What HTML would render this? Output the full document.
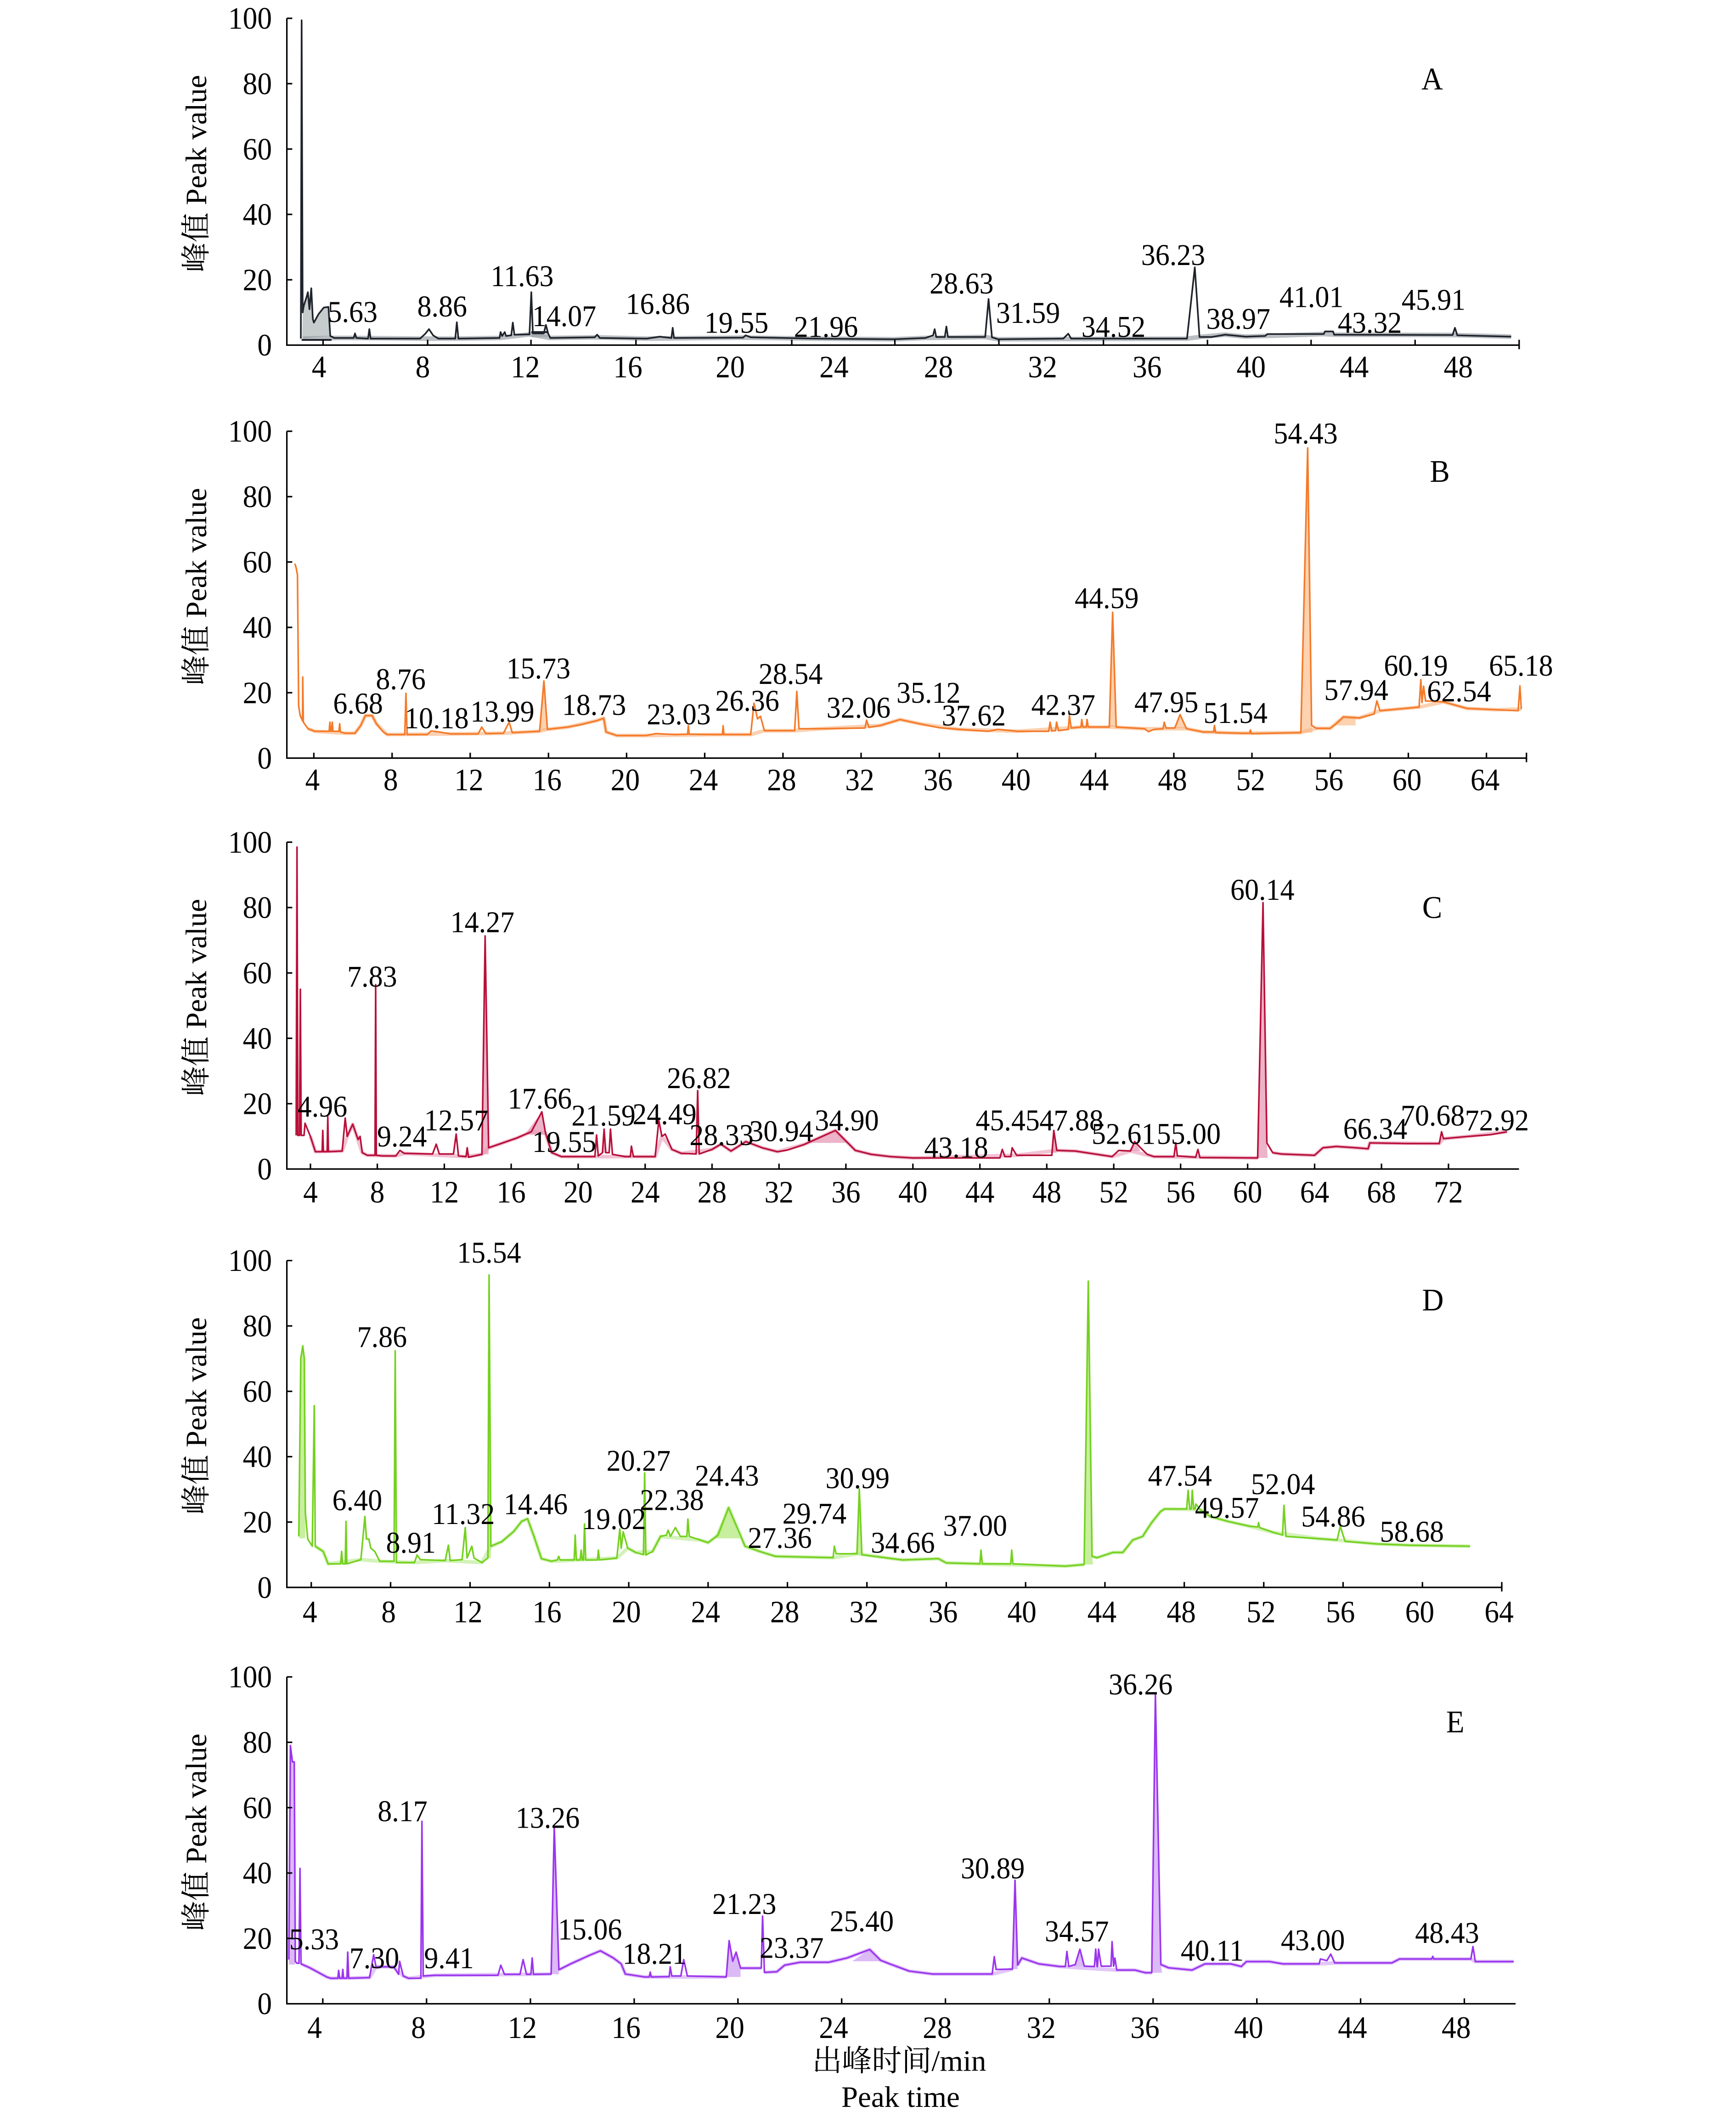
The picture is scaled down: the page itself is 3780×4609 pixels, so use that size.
<!DOCTYPE html>
<html><head><meta charset="utf-8">
<style>
html,body{margin:0;padding:0;background:#fff}
svg{display:block}
text{font-family:"Liberation Serif","Noto Serif CJK SC",serif;fill:#000}
.tx{font-size:21.5px;text-anchor:middle}
.ty{font-size:21.5px;text-anchor:end}
.an{font-size:21px;text-anchor:middle}
.pl{font-size:22px;text-anchor:middle}
.tt{font-size:22px;text-anchor:middle}
.tx,.ty,.an,.pl{transform-box:fill-box;transform-origin:center;transform:scaleY(1.06)}
.ax{fill:none;stroke:#000;stroke-width:1.1}
</style></head><body>
<svg xmlns="http://www.w3.org/2000/svg" width="3780" height="4609" viewBox="0 0 1280 1561" preserveAspectRatio="none">
<rect x="0" y="0" width="1280" height="1561" fill="#fff"/>

<!-- ================= PANEL A ================= -->
<g transform="translate(160,254.5) scale(19.2,-2.41)">
<path fill="#c6cccc" d="M3.27,2 L3.29,10 L3.33,12 L3.45,15 L3.49,16.2 L3.55,11 L3.62,17.4 L3.68,8 L3.72,6.9 L3.9,9.5 L4.1,11.5 L4.28,11.7 L4.35,2.8 Z M12.07,2.5 L12.07,4.2 L12.7,4.2 L12.7,2.5 Z"/>
<path fill="none" stroke="#8e959b" stroke-opacity="0.6" stroke-width="10" stroke-linejoin="round" vector-effect="non-scaling-stroke" d="M3.3,2 L4.5,2.2 L5.25,2.2 L7.8,2 L9.15,2 L10.85,2.2 L12,3.3 L12.8,2.2 L14.5,2.4 L16.5,2 L20.2,2.3 L23,2 L26,1.8 L27.2,2.2 L29.5,2.5 L30,1.8 L37.25,2 L37.73,2.5 L38.72,3.2 L39.5,2.6 L40.25,2.8 L42.5,3.4 L42.9,3.2 L47.45,3.1 L49.7,2.6"/>
<path fill="none" stroke="#1f232b" stroke-width="3.6" stroke-linejoin="round" vector-effect="non-scaling-stroke" d="M3.22,2 L3.25,99.4 L3.29,10 L3.33,12 L3.45,15 L3.49,16.2 L3.55,11 L3.62,17.4 L3.68,8 L3.72,6.9 L3.9,9.5 L4.1,11.5 L4.28,11.7 L4.35,2.8 L4.5,2.2 L5.25,2.2 L5.3,3.6 L5.35,2.2 L5.8,2 L5.85,4.9 L5.9,2 L7.8,2 L8,3.5 L8.14,4.9 L8.3,3 L8.5,2 L9.15,2 L9.21,7 L9.27,2 L10.85,2.2 L10.89,4 L10.95,2.8 L11.05,4 L11.1,2.8 L11.3,3 L11.36,6.9 L11.42,3.2 L12,3.3 L12.07,16.2 L12.13,3.6 L12.55,3.6 L12.63,6.2 L12.72,3.5 L12.8,2.2 L14.5,2.4 L14.6,3.2 L14.7,2.2 L16.5,2 L17,2.6 L17.45,2.2 L17.5,5.3 L17.55,2.2 L20.2,2.3 L20.3,3 L20.5,2.4 L23,2 L26,1.8 L27.2,2.2 L27.5,3 L27.56,4.9 L27.62,2.5 L27.95,2.5 L28.01,5.7 L28.07,2.5 L29.5,2.5 L29.63,14.1 L29.76,2.4 L30,1.8 L32.5,2 L32.69,3.5 L32.8,2 L37.25,2 L37.55,23.8 L37.73,2.5 L38.2,2.5 L38.72,3.2 L39.5,2.6 L40.25,2.8 L40.34,3.4 L42.5,3.4 L42.55,4.2 L42.86,4.2 L42.9,3.2 L47.45,3.1 L47.54,5.3 L47.63,3 L49.7,2.6"/>
<path fill="none" stroke="#1f232b" stroke-width="4" vector-effect="non-scaling-stroke" d="M3.25,1.6 L4.4,1.6 M12.07,4 L12.7,4"/>
</g>
<path class="ax" d="M211.5,13.5 V254.5 H1120.1 M211.5,13.5 h4 M211.5,61.7 h4 M211.5,109.9 h4 M211.5,158.1 h4 M211.5,206.3 h4 M238.2,254.5 v-4 M315.3,254.5 v-4 M391.5,254.5 v-4 M468.9,254.5 v-4 M583.8,254.5 v-4 M659.8,254.5 v-4 M736.5,254.5 v-4 M813.6,254.5 v-4 M890.3,254.5 v-4 M966.7,254.5 v-4 M1043.4,254.5 v-4 M1120.1,257.5 v-7"/>
<text class="ty" x="200.5" y="20.8">100</text>
<text class="ty" x="200.5" y="69">80</text>
<text class="ty" x="200.5" y="117.2">60</text>
<text class="ty" x="200.5" y="165.4">40</text>
<text class="ty" x="200.5" y="213.6">20</text>
<text class="ty" x="200.5" y="261.8">0</text>
<text class="tx" x="235.2" y="277.8">4</text>
<text class="tx" x="311.7" y="277.8">8</text>
<text class="tx" x="387.3" y="277.8">12</text>
<text class="tx" x="462.9" y="277.8">16</text>
<text class="tx" x="538.4" y="277.8">20</text>
<text class="tx" x="614.9" y="277.8">24</text>
<text class="tx" x="692" y="277.8">28</text>
<text class="tx" x="768.7" y="277.8">32</text>
<text class="tx" x="845.8" y="277.8">36</text>
<text class="tx" x="922.5" y="277.8">40</text>
<text class="tx" x="998.5" y="277.8">44</text>
<text class="tx" x="1075.2" y="277.8">48</text>
<text class="tt" transform="translate(152,128) rotate(-90)">峰值 Peak value</text>
<text class="pl" x="1056" y="65.5">A</text>
<text class="an" x="260" y="237">5.63</text>
<text class="an" x="326" y="233">8.86</text>
<text class="an" x="385" y="210.5">11.63</text>
<text class="an" x="416" y="240">14.07</text>
<text class="an" x="485" y="231">16.86</text>
<text class="an" x="543" y="245">19.55</text>
<text class="an" x="609" y="248">21.96</text>
<text class="an" x="709" y="216">28.63</text>
<text class="an" x="758" y="237.6">31.59</text>
<text class="an" x="821" y="248">34.52</text>
<text class="an" x="865" y="195">36.23</text>
<text class="an" x="913" y="242">38.97</text>
<text class="an" x="967" y="226">41.01</text>
<text class="an" x="1010" y="245">43.32</text>
<text class="an" x="1057" y="228">45.91</text>

<!-- ================= PANEL B ================= -->
<g transform="translate(173.8,559) scale(14.41,-2.41)">
<path fill="#fcd2b0" d="M15.55,8.2 L15.77,23.6 L15.95,8.8 Z M44.7,9.5 L44.87,44.6 L45.05,9.5 Z M54.5,7.8 L54.85,94.9 L55.05,10 L55.1,7.8 Z M48.05,9.2 L48.32,13.3 L48.65,9 Z M56.3,10 L56.68,12.6 L57.3,12.3 L57.3,10 Z"/>
<path fill="none" stroke="#f9b27e" stroke-opacity="0.6" stroke-width="8" stroke-linejoin="round" vector-effect="non-scaling-stroke" d="M3.7,9 L4.05,8.2 L5.6,7.6 L6.1,7.6 L6.4,10 L6.63,13 L6.98,13 L7.2,10.5 L7.75,7.2 L11,7.4 L13.7,7.6 L15.55,8.2 L15.95,8.8 L17,9.5 L18.5,11.5 L18.83,12.2 L18.95,8 L19.5,6.9 L21,6.9 L24.5,7.2 L26.35,7.2 L27.05,8.4 L28.6,8.4 L30,9 L33,10 L33.99,11.8 L35,10.5 L37,8.8 L40,8.2 L43.3,9.5 L44.7,9.5 L46.5,9 L48.65,9 L49.5,8 L51.5,7.6 L54.5,7.8 L55.3,9.1 L56,9.1 L56.68,12.6 L57.5,12.3 L58.55,14.5 L60.55,15.6 L61.8,17.2 L63,15.2 L64.5,14.8 L65.78,15"/>
<path fill="none" stroke="#f47b2a" stroke-width="3.5" stroke-linejoin="round" vector-effect="non-scaling-stroke" d="M3.03,59.5 L3.1,58 L3.16,56 L3.22,16 L3.3,13 L3.42,11.4 L3.43,24.8 L3.46,11 L3.7,9 L4.05,8.2 L4.78,8.2 L4.82,11 L4.86,8.2 L4.9,8.2 L4.94,11 L4.98,8.2 L5.28,8.2 L5.32,10.5 L5.36,8 L5.6,7.6 L6.1,7.6 L6.4,10 L6.63,13 L6.98,13 L7.2,10.5 L7.55,8 L7.75,7.2 L8.65,7.2 L8.71,19.8 L8.77,7.2 L9.8,7.2 L10,8.3 L10.4,8 L11,7.4 L12.4,7.4 L12.59,9.5 L12.8,7.5 L13.7,7.6 L13.99,11 L14.15,7.8 L15.55,8.2 L15.77,23.6 L15.95,8.8 L17,9.5 L17.7,10.3 L18.5,11.5 L18.83,12.2 L18.95,8 L19.5,6.9 L21,6.9 L21.5,7.5 L22.5,7.2 L23.12,7.3 L23.16,9.9 L23.2,7.3 L24.5,7.2 L24.9,7.2 L24.94,9.9 L24.98,7.2 L26.35,7.2 L26.52,16.8 L26.7,12 L26.85,12.8 L27.05,8.4 L28.6,8.4 L28.71,20.4 L28.82,9 L30,9 L32.2,9.2 L32.28,11.6 L32.4,9.4 L33,10 L33.99,11.8 L35,10.5 L36,9.3 L37,8.8 L38.5,8.2 L39,8.8 L40,8.2 L41.6,8.2 L41.67,11 L41.75,8.3 L41.95,8.4 L42,11 L42.1,8.4 L42.6,8.8 L42.66,13 L42.75,9.2 L43.25,9.5 L43.29,11.8 L43.35,9.5 L43.52,9.5 L43.56,11.8 L43.62,9.5 L44.7,9.5 L44.87,44.6 L45.05,9.5 L46.5,9 L46.7,8.1 L47,8.8 L47.45,9 L47.51,11 L47.6,9.2 L48.05,9.2 L48.32,13.3 L48.65,9 L49.5,8 L50.04,8 L50.08,10 L50.14,7.8 L51.5,7.6 L51.88,7.6 L51.92,8.6 L51.96,7.5 L54.5,7.8 L54.85,94.9 L55.05,10 L55.3,9.1 L56,9.1 L56.3,10.5 L56.68,12.6 L57.5,12.3 L58.25,13.5 L58.39,17.5 L58.55,14.5 L60.55,15.6 L60.64,24 L60.7,17 L60.78,22 L60.88,17.5 L61.8,17.2 L63,15.2 L64.5,14.8 L65.62,14.5 L65.71,22.1 L65.78,15"/>
</g>
<path class="ax" d="M211.5,318 V559 H1125.5 M211.5,318 h4 M211.5,366.2 h4 M211.5,414.4 h4 M211.5,462.6 h4 M211.5,510.8 h4 M231.4,559 v-4 M289.1,559 v-4 M346.7,559 v-4 M404.4,559 v-4 M462,559 v-4 M519.6,559 v-4 M577.3,559 v-4 M634.9,559 v-4 M692.6,559 v-4 M750.2,559 v-4 M807.8,559 v-4 M865.5,559 v-4 M923.1,559 v-4 M980.8,559 v-4 M1038.4,559 v-4 M1096,559 v-4 M1125.5,562 v-7"/>
<text class="ty" x="200.5" y="325.3">100</text>
<text class="ty" x="200.5" y="373.5">80</text>
<text class="ty" x="200.5" y="421.7">60</text>
<text class="ty" x="200.5" y="469.9">40</text>
<text class="ty" x="200.5" y="518.1">20</text>
<text class="ty" x="200.5" y="566.3">0</text>
<text class="tx" x="230.4" y="582.3">4</text>
<text class="tx" x="288.1" y="582.3">8</text>
<text class="tx" x="345.7" y="582.3">12</text>
<text class="tx" x="403.4" y="582.3">16</text>
<text class="tx" x="461" y="582.3">20</text>
<text class="tx" x="518.6" y="582.3">24</text>
<text class="tx" x="576.3" y="582.3">28</text>
<text class="tx" x="633.9" y="582.3">32</text>
<text class="tx" x="691.6" y="582.3">36</text>
<text class="tx" x="749.2" y="582.3">40</text>
<text class="tx" x="806.8" y="582.3">44</text>
<text class="tx" x="864.5" y="582.3">48</text>
<text class="tx" x="922.1" y="582.3">52</text>
<text class="tx" x="979.8" y="582.3">56</text>
<text class="tx" x="1037.4" y="582.3">60</text>
<text class="tx" x="1095" y="582.3">64</text>
<text class="tt" transform="translate(152,432.5) rotate(-90)">峰值 Peak value</text>
<text class="pl" x="1061.6" y="354.9">B</text>
<text class="an" x="264" y="525.7">6.68</text>
<text class="an" x="295.5" y="507.7">8.76</text>
<text class="an" x="322" y="536.6">10.18</text>
<text class="an" x="370.4" y="531.6">13.99</text>
<text class="an" x="397" y="499.8">15.73</text>
<text class="an" x="438" y="526.7">18.73</text>
<text class="an" x="500.5" y="533.6">23.03</text>
<text class="an" x="551" y="523.7">26.36</text>
<text class="an" x="583" y="503.8">28.54</text>
<text class="an" x="633" y="528.7">32.06</text>
<text class="an" x="684.6" y="517.7">35.12</text>
<text class="an" x="718" y="534.6">37.62</text>
<text class="an" x="784" y="526.7">42.37</text>
<text class="an" x="816" y="448">44.59</text>
<text class="an" x="860" y="524.7">47.95</text>
<text class="an" x="911" y="532.6">51.54</text>
<text class="an" x="962.7" y="326.6">54.43</text>
<text class="an" x="1000" y="515.7">57.94</text>
<text class="an" x="1044" y="497.8">60.19</text>
<text class="an" x="1075.8" y="516.7">62.54</text>
<text class="an" x="1121.5" y="497.8">65.18</text>

<!-- ================= PANEL C ================= -->
<g transform="translate(179.5,862) scale(12.34,-2.41)">
<path fill="#ecb3c9" d="M3.15,10.3 L3.2,98.5 L3.25,10.3 Z M14.25,4.5 L14.44,71.3 L14.65,6.5 L14.65,4.5 Z M60.6,3.4 L60.92,81.5 L61.15,8 L61.2,3.4 Z M16.8,10.5 L17.83,17.5 L18.1,10.5 Z M33.8,8 L35.37,11.8 L36.2,8 Z M52.9,5.5 L53.25,8.4 L53.6,5.5 Z M21.45,5 L21.55,12.2 L21.65,5 Z M48.3,5 L48.42,11.8 L48.6,5 Z"/>
<path fill="none" stroke="#e79ab8" stroke-opacity="0.6" stroke-width="8" stroke-linejoin="round" vector-effect="non-scaling-stroke" d="M4,10 L4.3,5.3 L5.9,5.5 L6.2,10 L6.53,13.7 L7.1,5 L7.4,4.2 L9.1,4 L9.6,4.8 L13.3,3.8 L14.25,4.5 L14.65,6.5 L15.5,8 L16.34,9.5 L17.2,11.4 L18.05,11 L18.42,5 L19,3.8 L24.6,3.8 L25,10 L25.6,6 L26.16,4.8 L28,6 L28.53,7.6 L29.13,5.5 L30.02,8.4 L31,6.5 L31.9,5.3 L33.5,7.5 L35.37,11.8 L36.56,5.7 L37.5,4.5 L38.65,3.8 L40,3.4 L46.2,4.2 L48.6,5.7 L49.7,5.5 L51.9,3.8 L53,5.5 L54.4,3.8 L60.6,3.4 M61.5,5 L62,4.6 L64,4.2 L64.5,6.5 L65.3,6.9 L67.2,6.2 L67.3,8 L71.45,7.8 L71.7,9.3 L73,9.9 L75.5,11.4"/>
<path fill="none" stroke="#b8103a" stroke-width="3.5" stroke-linejoin="round" vector-effect="non-scaling-stroke" d="M3.15,10.3 L3.2,98.5 L3.25,10.3 L3.35,10.3 L3.4,55 L3.45,10.3 L3.62,10.3 L3.68,14 L4,10 L4.3,5.3 L4.7,5.3 L4.74,11.8 L4.78,5.3 L5,5.3 L5.04,16 L5.08,5.3 L5.9,5.5 L6.08,15.6 L6.2,10 L6.53,13.7 L6.85,9 L6.97,10 L7.1,5 L7.4,4.2 L7.86,4.2 L7.9,56.4 L7.94,4.2 L8.3,4 L9.1,4 L9.35,5.7 L9.6,4.8 L11.3,4.6 L11.52,7.6 L11.7,4.6 L12.55,4.6 L12.71,10.7 L12.85,4 L13.3,3.8 L13.37,6.5 L13.45,3.6 L14.25,4.5 L14.44,71.3 L14.65,6.5 L15.5,8 L16.34,9.5 L17.2,11.4 L17.83,17.5 L18.05,11 L18.42,5 L19,3.8 L21,3.8 L21.1,10.4 L21.2,4 L21.45,5 L21.55,12.2 L21.65,5 L21.85,5 L21.93,12.2 L22.05,4.5 L22.8,3.8 L23.12,3.8 L23.18,7 L23.3,3.8 L24.6,3.8 L24.82,14.9 L25,10 L25.2,10.7 L25.6,6 L26.16,4.8 L27.05,4.6 L27.14,24 L27.23,4.6 L28,6 L28.53,7.6 L29.13,5.5 L30.02,8.4 L31,6.5 L31.9,5.3 L32.5,5.8 L33.5,7.5 L35.37,11.8 L36.56,5.7 L37.5,4.5 L38.65,3.8 L40,3.4 L45.2,3.4 L45.34,6 L45.5,3.8 L45.85,3.8 L45.93,6.5 L46.2,4.2 L48.3,4.2 L48.42,11.8 L48.6,5.7 L49.7,5.5 L51.9,3.8 L52.3,5.7 L53,5.5 L53.25,8.4 L53.6,6.5 L54,4.5 L54.4,3.8 L55.6,3.8 L55.71,8 L55.8,4 L56.9,3.6 L57.03,6 L57.15,3.5 L60.6,3.4 L60.92,81.5 L61.15,8 L61.5,5 L62,4.6 L64,4.2 L64.5,6.5 L65.3,6.9 L66.5,6.5 L67.2,6.2 L67.3,8 L69.5,7.8 L71.45,7.8 L71.59,11.4 L71.7,9.3 L73,9.9 L74.5,10.5 L75.5,11.4"/>
</g>
<path class="ax" d="M211.5,621 V862 H1120 M211.5,621 h4 M211.5,669.2 h4 M211.5,717.4 h4 M211.5,765.6 h4 M211.5,813.8 h4 M228.9,862 v-4 M278.2,862 v-4 M327.6,862 v-4 M376.9,862 v-4 M426.3,862 v-4 M475.7,862 v-4 M525,862 v-4 M574.4,862 v-4 M623.7,862 v-4 M673.1,862 v-4 M722.5,862 v-4 M771.8,862 v-4 M821.2,862 v-4 M870.5,862 v-4 M919.9,862 v-4 M969.3,862 v-4 M1018.6,862 v-4 M1068,862 v-4"/>
<text class="ty" x="200.5" y="628.3">100</text>
<text class="ty" x="200.5" y="676.5">80</text>
<text class="ty" x="200.5" y="724.7">60</text>
<text class="ty" x="200.5" y="772.9">40</text>
<text class="ty" x="200.5" y="821.1">20</text>
<text class="ty" x="200.5" y="869.3">0</text>
<text class="tx" x="228.9" y="886.3">4</text>
<text class="tx" x="278.2" y="886.3">8</text>
<text class="tx" x="327.6" y="886.3">12</text>
<text class="tx" x="376.9" y="886.3">16</text>
<text class="tx" x="426.3" y="886.3">20</text>
<text class="tx" x="475.7" y="886.3">24</text>
<text class="tx" x="525" y="886.3">28</text>
<text class="tx" x="574.4" y="886.3">32</text>
<text class="tx" x="623.7" y="886.3">36</text>
<text class="tx" x="673.1" y="886.3">40</text>
<text class="tx" x="722.5" y="886.3">44</text>
<text class="tx" x="771.8" y="886.3">48</text>
<text class="tx" x="821.2" y="886.3">52</text>
<text class="tx" x="870.5" y="886.3">56</text>
<text class="tx" x="919.9" y="886.3">60</text>
<text class="tx" x="969.3" y="886.3">64</text>
<text class="tx" x="1018.6" y="886.3">68</text>
<text class="tx" x="1068" y="886.3">72</text>
<text class="tt" transform="translate(152,735.5) rotate(-90)">峰值 Peak value</text>
<text class="pl" x="1056" y="676.5">C</text>
<text class="an" x="237.7" y="823">4.96</text>
<text class="an" x="274.4" y="727">7.83</text>
<text class="an" x="296.4" y="845">9.24</text>
<text class="an" x="336.4" y="833">12.57</text>
<text class="an" x="355.7" y="687">14.27</text>
<text class="an" x="398" y="817">17.66</text>
<text class="an" x="416" y="849">19.55</text>
<text class="an" x="445" y="829.5">21.59</text>
<text class="an" x="490" y="828.5">24.49</text>
<text class="an" x="515.4" y="802">26.82</text>
<text class="an" x="532" y="844">28.33</text>
<text class="an" x="576" y="841">30.94</text>
<text class="an" x="624.4" y="833">34.90</text>
<text class="an" x="705" y="853">43.18</text>
<text class="an" x="743" y="833">45.45</text>
<text class="an" x="790" y="833">47.88</text>
<text class="an" x="828.5" y="843">52.61</text>
<text class="an" x="876.5" y="843">55.00</text>
<text class="an" x="930.8" y="663">60.14</text>
<text class="an" x="1014" y="839.4">66.34</text>
<text class="an" x="1056.4" y="829.5">70.68</text>
<text class="an" x="1103.7" y="833">72.92</text>

<!-- ================= PANEL D ================= -->
<g transform="translate(171,1170.5) scale(14.63,-2.41)">
<path fill="#c8ef9f" d="M3.4,15 L3.47,70 L3.57,73.9 L3.65,70 L3.7,15 Z M12.88,9 L12.96,95.6 L13.05,12.6 L13.05,9 Z M24.3,15 L25.03,24.4 L25.6,15 Z M42.95,7 L43.16,93.7 L43.35,9.5 L43.4,7 Z M20.74,10 L20.8,35 L20.86,10 Z M31.5,10 L31.62,30.1 L31.75,10 Z"/>
<path fill="none" stroke="#b5e98a" stroke-opacity="0.6" stroke-width="8" stroke-linejoin="round" vector-effect="non-scaling-stroke" d="M4.2,12.6 L4.6,11 L4.85,7.2 L6.5,8.5 L7.45,8 L9.2,7.6 L10.75,8.2 L12.6,7.6 L13.05,12.6 L13.6,14 L14.2,17.1 L14.6,20.2 L14.9,21 L15.2,16 L15.6,8.8 L16.1,8 L19.4,9 L19.95,12 L20.35,10.7 L21.2,11 L21.6,15.6 L23.6,14.5 L24,13.7 L24.5,16 L25.03,24.4 L25.86,12.6 L26.6,11 L27.4,9.5 L30.3,9.1 L31.5,10.3 L33.8,8.4 L35.6,8.8 L36,7.5 L42,6.5 L42.95,7 M43.35,9.5 L43.6,9.1 L44.4,10.7 L44.9,10.7 L45.4,14.5 L45.9,15.6 L46.35,19.8 L46.8,23.2 L47,24 L48.8,23.8 L49.3,21.7 L50.2,20.2 L51.3,18.7 L52.5,16.8 L54.8,14.9 L55.7,14.5 L57.7,13.3 L59.4,12.9 L62.4,12.6"/>
<path fill="none" stroke="#74d11f" stroke-width="3.5" stroke-linejoin="round" vector-effect="non-scaling-stroke" d="M3.37,15.6 L3.47,70 L3.57,73.9 L3.65,70 L3.7,23 L3.82,14.8 L4.05,12.6 L4.15,55.6 L4.2,12.6 L4.6,11 L4.85,7.2 L5.48,7.2 L5.53,11 L5.58,7.2 L5.71,7.2 L5.75,20.2 L5.79,7.2 L6.5,8.5 L6.7,21.7 L6.78,14.8 L6.9,14.8 L7,12 L7.2,11 L7.45,8 L8.17,8 L8.23,72.4 L8.29,7.6 L9.2,7.6 L9.33,9.9 L9.5,8.5 L10.75,8.2 L10.91,12.9 L11,8.2 L11.6,8.5 L11.76,18.3 L11.85,9 L12.09,12.6 L12.2,9 L12.6,7.6 L12.9,9 L12.96,95.6 L13.05,12.6 L13.6,14 L14.2,17.1 L14.6,20.2 L14.9,21 L15.2,16 L15.6,8.8 L16.1,8 L16.4,8.4 L16.47,9.5 L16.54,8.4 L17.25,8.4 L17.3,16 L17.36,8.4 L17.55,8.4 L17.6,11.4 L17.66,8.4 L17.72,8.4 L17.77,19.4 L17.83,8.4 L18.42,8.4 L18.47,11.4 L18.52,8.4 L19.4,9 L19.55,17.9 L19.62,12 L19.72,17 L19.95,12 L20.35,10.7 L20.74,10 L20.8,35 L20.86,9.9 L21.2,11 L21.6,15.6 L21.9,16 L21.98,17.5 L22.1,15.6 L22.35,18.3 L22.6,15.6 L22.93,15.6 L22.98,20.9 L23.05,15.6 L23.6,14.5 L24,13.7 L24.5,16 L25.03,24.4 L25.86,12.6 L26.6,11 L27.4,9.5 L30.3,9.1 L30.36,12.6 L30.45,10.3 L31.5,10.3 L31.62,30.1 L31.75,10 L33.8,8.4 L35.6,8.8 L36,7.5 L37.7,7.2 L37.75,11.4 L37.82,7.2 L39.25,7.2 L39.3,11.4 L39.36,7.2 L42,6.5 L42.95,7 L43.16,93.7 L43.35,9.5 L43.6,9.1 L44.4,10.7 L44.9,10.7 L45.4,14.5 L45.9,15.6 L46.1,17.5 L46.35,19.8 L46.8,23.2 L47,24 L48.12,24 L48.19,29.7 L48.27,24 L48.35,24 L48.4,29.7 L48.47,24 L48.54,24 L48.58,25.5 L48.8,23.8 L49.3,21.7 L50.2,20.2 L51.3,18.7 L51.7,18.5 L51.74,19.8 L51.8,18.3 L52.5,16.8 L52.95,16 L53.02,25.1 L53.12,15.6 L54.8,14.9 L55.7,14.5 L55.86,18.7 L56.1,14.1 L57.7,13.3 L59.4,12.9 L62.4,12.6"/>
</g>
<path class="ax" d="M211.5,929.5 V1170.5 H1107.3 M211.5,929.5 h4 M211.5,977.7 h4 M211.5,1025.9 h4 M211.5,1074.1 h4 M211.5,1122.3 h4 M229.5,1170.5 v-4 M288,1170.5 v-4 M346.6,1170.5 v-4 M405.1,1170.5 v-4 M463.6,1170.5 v-4 M522.1,1170.5 v-4 M580.6,1170.5 v-4 M639.2,1170.5 v-4 M697.7,1170.5 v-4 M756.2,1170.5 v-4 M814.7,1170.5 v-4 M873.2,1170.5 v-4 M931.8,1170.5 v-4 M990.3,1170.5 v-4 M1048.8,1170.5 v-4 M1107.3,1173.5 v-7"/>
<text class="ty" x="200.5" y="936.8">100</text>
<text class="ty" x="200.5" y="985">80</text>
<text class="ty" x="200.5" y="1033.2">60</text>
<text class="ty" x="200.5" y="1081.4">40</text>
<text class="ty" x="200.5" y="1129.6">20</text>
<text class="ty" x="200.5" y="1177.8">0</text>
<text class="tx" x="228.5" y="1195.8">4</text>
<text class="tx" x="286.5" y="1195.8">8</text>
<text class="tx" x="345" y="1195.8">12</text>
<text class="tx" x="403.3" y="1195.8">16</text>
<text class="tx" x="461.8" y="1195.8">20</text>
<text class="tx" x="520.2" y="1195.8">24</text>
<text class="tx" x="578.6" y="1195.8">28</text>
<text class="tx" x="637" y="1195.8">32</text>
<text class="tx" x="695.4" y="1195.8">36</text>
<text class="tx" x="753.5" y="1195.8">40</text>
<text class="tx" x="812.5" y="1195.8">44</text>
<text class="tx" x="871" y="1195.8">48</text>
<text class="tx" x="929.8" y="1195.8">52</text>
<text class="tx" x="988.3" y="1195.8">56</text>
<text class="tx" x="1046.8" y="1195.8">60</text>
<text class="tx" x="1105.3" y="1195.8">64</text>
<text class="tt" transform="translate(152,1044) rotate(-90)">峰值 Peak value</text>
<text class="pl" x="1056.5" y="965.9">D</text>
<text class="an" x="360.6" y="930.7">15.54</text>
<text class="an" x="281.7" y="992.7">7.86</text>
<text class="an" x="263.4" y="1113.2">6.40</text>
<text class="an" x="303" y="1144.5">8.91</text>
<text class="an" x="341.6" y="1123.3">11.32</text>
<text class="an" x="395" y="1116">14.46</text>
<text class="an" x="452.7" y="1127">19.02</text>
<text class="an" x="470.8" y="1084">20.27</text>
<text class="an" x="495.4" y="1113">22.38</text>
<text class="an" x="536" y="1095">24.43</text>
<text class="an" x="575" y="1141">27.36</text>
<text class="an" x="600.5" y="1123">29.74</text>
<text class="an" x="632.3" y="1097">30.99</text>
<text class="an" x="665.7" y="1144.5">34.66</text>
<text class="an" x="719" y="1132">37.00</text>
<text class="an" x="870" y="1095">47.54</text>
<text class="an" x="904.7" y="1118.7">49.57</text>
<text class="an" x="946" y="1101.3">52.04</text>
<text class="an" x="983" y="1125.2">54.86</text>
<text class="an" x="1041" y="1136.3">58.68</text>

<!-- ================= PANEL E ================= -->
<g transform="translate(161.5,1477.5) scale(19.13,-2.41)">
<path fill="#dcbaf6" d="M2.69,12 L2.75,79 L2.83,74 L2.9,74 L2.94,12 Z M12.8,9.1 L12.92,54.2 L13.1,10.4 L13.1,9 Z M35.95,9.5 L36.09,94.7 L36.3,12 L36.35,9.5 Z M19.55,8.2 L19.66,19.3 L19.8,13 L19.93,15.8 L20.1,10.9 L20.1,8.2 Z M24.4,13 L25.08,16.6 L25.6,13 Z M32.95,11.5 L33.18,16.7 L33.35,11.5 Z M30.58,10.6 L30.68,37.8 L30.78,10.6 Z"/>
<path fill="none" stroke="#cfa2f3" stroke-opacity="0.6" stroke-width="8" stroke-linejoin="round" vector-effect="non-scaling-stroke" d="M3.16,12.2 L3.5,11 L4.15,8.2 L4.3,7.8 L5.8,8 L6.05,11.3 L6.73,11.3 L7.1,8.5 L7.3,7.8 L8.3,8.7 L12.8,9.1 M13.1,10.4 L13.55,12.2 L14.3,14.9 L14.7,16.2 L15.2,14 L15.5,12.2 L15.66,9.1 L16.4,8.2 L19.55,8.2 M20.1,10.9 L20.9,10.9 M21.02,9.6 L21.5,9.8 L21.8,11.8 L22.4,12.7 L23.5,12.7 L24.2,14 L25.08,16.6 L25.5,13.3 L25.85,12.2 L26.6,10 L27.5,9.1 L29.8,9.1 L30.58,10.6 M30.78,11.8 L30.94,14 L31.6,12.2 L32.4,11.4 L34.6,10.3 L35.3,10.3 L35.7,9.5 L35.95,9.5 M36.3,12 L36.6,11 L37.5,10.3 L38,12.2 L39,12.2 L39.4,11.4 L39.6,12.9 L40.5,12.9 L41,12.2 L42.4,12.2 L43,12.5 L45.2,12.5 L45.5,13.7 L48.25,13.7 L48.42,12.9 L49.9,12.9"/>
<path fill="none" stroke="#9b35ee" stroke-width="3.5" stroke-linejoin="round" vector-effect="non-scaling-stroke" d="M2.69,13.5 L2.75,79 L2.83,74 L2.9,74 L2.94,13 L3,12.4 L3.08,12.4 L3.12,41.4 L3.16,12.2 L3.5,11 L4.15,8.2 L4.3,7.8 L4.58,7.8 L4.61,10.2 L4.65,7.8 L4.74,7.8 L4.77,10.5 L4.8,7.8 L4.93,7.8 L4.96,15.8 L5,7.8 L5.8,8 L5.96,15 L6.05,11.3 L6.73,11.3 L6.92,9 L6.96,13 L7.1,8.5 L7.3,7.8 L7.78,7.8 L7.82,55.8 L7.87,8.5 L8.3,8.7 L10.75,8.7 L10.86,11.8 L11,9 L11.6,9 L11.72,13.5 L11.85,9 L12.02,9 L12.07,14 L12.12,9 L12.8,9.1 L12.92,54.2 L13.1,10.4 L13.55,12.2 L14.3,14.9 L14.7,16.2 L15.2,14 L15.5,12.2 L15.66,9.1 L16.4,8.2 L16.58,8.2 L16.62,9.7 L16.66,8.2 L17.35,8.3 L17.39,11.3 L17.45,8.5 L17.8,8.5 L17.91,13.5 L18.05,8.5 L19.55,8.2 L19.66,19.3 L19.8,13 L19.93,15.8 L20.1,10.9 L20.9,10.9 L20.95,26.8 L21.02,9.6 L21.5,9.8 L21.8,11.8 L22.4,12.7 L23.5,12.7 L24.2,14 L25.08,16.6 L25.5,13.3 L25.85,12.2 L26.6,10 L27.5,9.1 L29.8,9.1 L29.88,14.4 L29.95,10.5 L30.58,10.6 L30.68,37.8 L30.78,11.8 L30.94,14 L31.6,12.2 L32.4,11.4 L32.62,11.4 L32.68,16 L32.75,11.4 L33,12 L33.18,16.7 L33.35,11.5 L33.74,11.4 L33.79,16.7 L33.84,11.4 L33.86,11.4 L33.9,16.7 L34,11.5 L34.38,11.5 L34.42,19 L34.48,11.5 L34.53,14 L34.6,10.3 L35.3,10.3 L35.7,9.5 L35.95,9.5 L36.09,94.7 L36.3,12 L36.6,11 L37.5,10.3 L38,12.2 L39,12.2 L39.4,11.4 L39.6,12.9 L40.5,12.9 L41,12.2 L42.4,12.2 L42.45,13.7 L42.7,13.2 L42.85,15.2 L43,12.5 L45.2,12.5 L45.5,13.7 L46.74,13.7 L46.78,14.5 L46.82,13.7 L48.25,13.7 L48.33,17.5 L48.42,12.9 L49.9,12.9"/>
</g>
<path class="ax" d="M211.5,1236.5 V1477.5 H1117.5 M211.5,1236.5 h4 M211.5,1284.7 h4 M211.5,1332.9 h4 M211.5,1381.1 h4 M211.5,1429.3 h4 M238,1477.5 v-4 M314.5,1477.5 v-4 M391.1,1477.5 v-4 M467.6,1477.5 v-4 M544.1,1477.5 v-4 M620.6,1477.5 v-4 M697.1,1477.5 v-4 M773.7,1477.5 v-4 M850.2,1477.5 v-4 M926.7,1477.5 v-4 M1003.2,1477.5 v-4 M1079.7,1477.5 v-4"/>
<text class="ty" x="200.5" y="1243.8">100</text>
<text class="ty" x="200.5" y="1292">80</text>
<text class="ty" x="200.5" y="1340.2">60</text>
<text class="ty" x="200.5" y="1388.4">40</text>
<text class="ty" x="200.5" y="1436.6">20</text>
<text class="ty" x="200.5" y="1484.8">0</text>
<text class="tx" x="232" y="1502.3">4</text>
<text class="tx" x="308.5" y="1502.3">8</text>
<text class="tx" x="385.1" y="1502.3">12</text>
<text class="tx" x="461.6" y="1502.3">16</text>
<text class="tx" x="538.1" y="1502.3">20</text>
<text class="tx" x="614.6" y="1502.3">24</text>
<text class="tx" x="691.1" y="1502.3">28</text>
<text class="tx" x="767.7" y="1502.3">32</text>
<text class="tx" x="844.2" y="1502.3">36</text>
<text class="tx" x="920.7" y="1502.3">40</text>
<text class="tx" x="997.2" y="1502.3">44</text>
<text class="tx" x="1073.7" y="1502.3">48</text>
<text class="tt" transform="translate(152,1351) rotate(-90)">峰值 Peak value</text>
<text class="pl" x="1073" y="1277">E</text>
<text class="an" x="231.6" y="1437">5.33</text>
<text class="an" x="276" y="1450.8">7.30</text>
<text class="an" x="296.8" y="1342.5">8.17</text>
<text class="an" x="331" y="1450.8">9.41</text>
<text class="an" x="403.8" y="1347.4">13.26</text>
<text class="an" x="435" y="1429.6">15.06</text>
<text class="an" x="482.6" y="1447.6">18.21</text>
<text class="an" x="548.8" y="1410.8">21.23</text>
<text class="an" x="583.7" y="1443.3">23.37</text>
<text class="an" x="635.4" y="1423.5">25.40</text>
<text class="an" x="732" y="1384.7">30.89</text>
<text class="an" x="841" y="1249">36.26</text>
<text class="an" x="794" y="1431">34.57</text>
<text class="an" x="893.8" y="1445.2">40.11</text>
<text class="an" x="968" y="1437.7">43.00</text>
<text class="an" x="1067" y="1432.2">48.43</text>

<!-- X axis title -->
<text class="tt" x="663" y="1527">出峰时间/min</text>
<text class="tt" x="664" y="1553.5">Peak time</text>
</svg>
</body></html>
